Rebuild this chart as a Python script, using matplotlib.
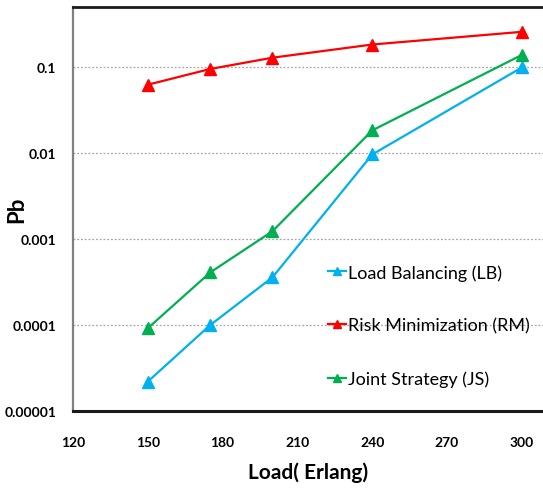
import matplotlib
matplotlib.use('Agg')
import matplotlib.pyplot as plt
from matplotlib.ticker import FixedLocator, FixedFormatter, NullLocator

#data
load = [150, 175, 200, 240, 300]
lb = [2.2e-5, 1.0e-4, 3.6e-4, 0.0097, 0.10]
rm = [0.063, 0.096, 0.13, 0.185, 0.26]
js = [9.2e-5, 4.1e-4, 1.24e-3, 0.0185, 0.14]

xticks = [120, 150, 180, 210, 240, 270, 300]
yticks = [1e-5, 1e-4, 1e-3, 1e-2, 1e-1]
ylabels = ['0.00001', '0.0001', '0.001', '0.01', '0.1']

plt.rcParams['font.family'] = ['Lato', 'DejaVu Sans']

fig = plt.figure(figsize=(5.43, 4.89), dpi=100)
ax = fig.add_axes([73/543, 1 - 412/489, 1 - 73/543, (412 - 8)/489])

ax.plot(load, lb, color='#00b0f0', lw=1.6, marker='^', ms=8, label='Load Balancing (LB)')
ax.plot(load, rm, color='#ff0000', lw=1.6, marker='^', ms=8, label='Risk Minimization (RM)')
ax.plot(load, js, color='#00b050', lw=1.6, marker='^', ms=8, label='Joint Strategy (JS)')

ax.set_yscale('log')
ax.set_xlim(120, 308.5)
ax.set_ylim(1e-5, 0.506)
ax.xaxis.set_major_locator(FixedLocator(xticks))
ax.yaxis.set_major_locator(FixedLocator(yticks))
ax.yaxis.set_major_formatter(FixedFormatter(ylabels))
ax.yaxis.set_minor_locator(NullLocator())
ax.tick_params(length=0, labelsize=10)
ax.tick_params(axis='y', pad=12)
ax.tick_params(axis='x', pad=18)
for lab in ax.get_xticklabels() + ax.get_yticklabels():
    lab.set_fontweight('bold')

for y in yticks[1:]:
    ax.axhline(y, color='#a6a6a6', lw=0.9, ls=(0, (1.5, 1.5)), zorder=0)

ax.spines['right'].set_visible(False)
ax.spines['left'].set_color('#808080')
ax.spines['left'].set_linewidth(1.6)
ax.spines['top'].set_color('#1a1a1a')
ax.spines['top'].set_linewidth(2)
ax.spines['bottom'].set_color('#1a1a1a')
ax.spines['bottom'].set_linewidth(2.2)

ax.set_xlabel('Load( Erlang)', fontsize=15, fontweight='bold', labelpad=10)
ax.set_ylabel('Pb', fontsize=16, fontweight='bold')
ax.yaxis.set_label_coords((27 - 73) / 470, (489 - 210 - 77) / 404)

leg = ax.legend(loc='upper left', frameon=False,
                fontsize=13, handlelength=1.0, handletextpad=0.1, labelspacing=2.05,
                markerscale=0.8, borderaxespad=0, borderpad=0)
leg.set_bbox_to_anchor((328/543, 1 - 265/489), transform=fig.transFigure)

fig.savefig('out.png', dpi=100)
